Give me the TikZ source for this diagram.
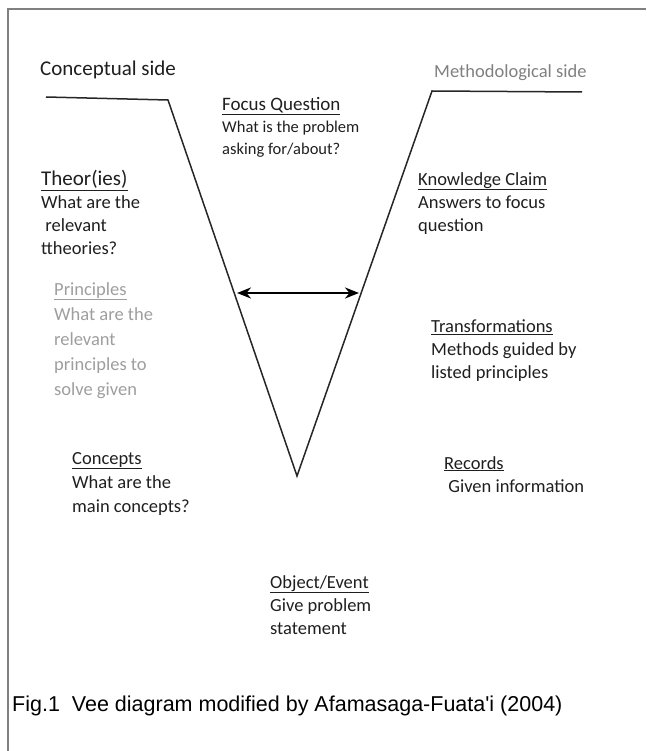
\documentclass[tikz,border=0pt]{standalone}
\usepackage{fontspec}
\setmainfont{Carlito}
\newfontfamily\captionfont{Liberation Sans}
\usetikzlibrary{arrows.meta}

\begin{document}
\begin{tikzpicture}[x=1pt, y=-1pt, >={Stealth[length=14pt,width=11pt]},
    veeline/.style={black!85, line width=1.5pt},
    textblock/.style={anchor=north west, inner sep=0pt, align=left, text=black!88,
        font=\fontsize{18.5}{23}\selectfont},
    fadedblock/.style={textblock, text=black!38, font=\fontsize{18.5}{25}\selectfont}]
    \useasboundingbox (0,0) rectangle (646,751);

    % ===== frame =====
    \draw[black!50, line width=2.5pt] (8,751) -- (8,9) -- (646,9);

    % ===== the vee =====
    \coordinate (ltop) at (46,97);
    \coordinate (lcorner) at (168,100);
    \coordinate (vertex) at (297,476);
    \coordinate (rcorner) at (432,91);
    \coordinate (rtop) at (582,92);
    \draw[veeline, line join=miter] (ltop) -- (lcorner) -- (vertex) -- (rcorner) -- (rtop);

    \coordinate (arrL) at (237,293);
    \coordinate (arrR) at (359,293);
    \draw[<->, black, line width=2.6pt] (arrL) -- (arrR);

    % ===== side headings =====
    \node[textblock, font=\fontsize{21}{24}\selectfont] (concside) at (40,61) {Conceptual side};
    \node[textblock, text=black!50, font=\fontsize{18.5}{22}\selectfont] (methside) at (434,64) {Methodological side};

    % ===== conceptual side =====
    \node[textblock, font=\fontsize{16.5}{22}\selectfont] (focus) at (222,97)
        {{\fontsize{19}{22}\selectfont\underline{Focus Question}}\\What is the problem\\asking for/about?};
    \node[textblock] (theories) at (41,170)
        {{\fontsize{21}{23}\selectfont\underline{Theor(ies)}}\\What are the\\\ relevant\\ttheories?};
    \node[fadedblock] (principles) at (54,282)
        {\underline{Principles}\\What are the\\relevant\\principles to\\solve given};
    \node[textblock, font=\fontsize{18.5}{24}\selectfont] (concepts) at (72,452)
        {\underline{Concepts}\\What are the\\main concepts?};

    % ===== methodological side =====
    \node[textblock] (claim) at (418,172)
        {\underline{Knowledge Claim}\\Answers to focus\\question};
    \node[textblock] (transf) at (431,320)
        {\underline{Transformations}\\Methods guided by\\listed principles};
    \node[textblock] (records) at (444,456)
        {\underline{Records}\\\ Given information};

    % ===== bottom =====
    \node[textblock] (event) at (270,575)
        {\underline{Object/Event}\\Give problem\\statement};
    \node[anchor=north west, inner sep=0pt, font=\captionfont\fontsize{21.5}{24}\selectfont] (caption) at (12,696)
        {Fig.1\ \ Vee diagram modified by Afamasaga-Fuata'i (2004)};
\end{tikzpicture}
\end{document}
